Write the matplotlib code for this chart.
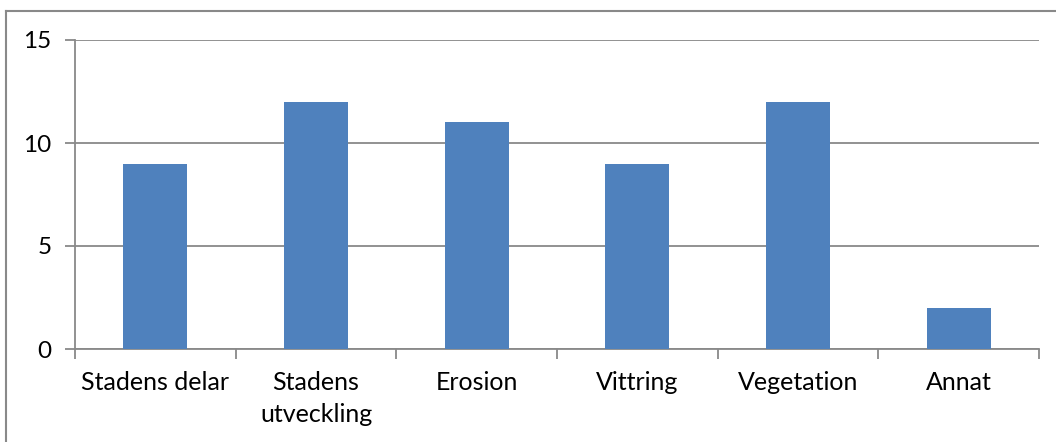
import matplotlib
matplotlib.use("Agg")
import matplotlib.pyplot as plt
from matplotlib.lines import Line2D

categories = ["Stadens delar", "Stadens\nutveckling", "Erosion", "Vittring", "Vegetation", "Annat"]
values = [9, 12, 11, 9, 12, 2]
y_ticks = [0, 5, 10, 15]

W, H = 1056, 442
fig = plt.figure(figsize=(W / 100, H / 100), dpi=100)
plt.rcParams["font.family"] = ["Lato", "DejaVu Sans"]

grey = "#898989"
ax = fig.add_axes([75 / W, 1 - 349 / H, (1039 - 75) / W, (349 - 40) / H])

x = list(range(len(categories)))
ax.bar(x, values, width=0.4, color="#4F81BD", zorder=3)

ax.set_xlim(-0.5, len(categories) - 0.5)
ax.set_ylim(0, 15)
ax.set_yticks(y_ticks)
ax.set_yticklabels([str(v) for v in y_ticks], fontsize=17.5)
ax.yaxis.grid(True, color=grey, linewidth=1.3, zorder=0)

ax.set_xticks([i - 0.5 for i in range(len(categories) + 1)], minor=False)
ax.set_xticklabels([])
ax.set_xticks(x, minor=True)
ax.set_xticklabels(categories, minor=True, fontsize=18, va="top", linespacing=1.45)
ax.tick_params(axis="x", which="major", length=7, width=1.3, color=grey, direction="out")
ax.tick_params(axis="x", which="minor", length=0, pad=16)
ax.tick_params(axis="y", length=7, width=1.3, color=grey, pad=10)

for side in ("top", "right"):
    ax.spines[side].set_visible(False)
for side in ("left", "bottom"):
    ax.spines[side].set_color(grey)
    ax.spines[side].set_linewidth(1.3)

# Chart-area frame: top and left edges
fig.add_artist(Line2D([5.5 / W, 5.5 / W], [0, 1 - 10.5 / H], transform=fig.transFigure, color=grey, linewidth=1.5))
fig.add_artist(Line2D([5.5 / W, 1], [1 - 10.5 / H, 1 - 10.5 / H], transform=fig.transFigure, color=grey, linewidth=1.5))

fig.savefig("out.png", dpi=100)
